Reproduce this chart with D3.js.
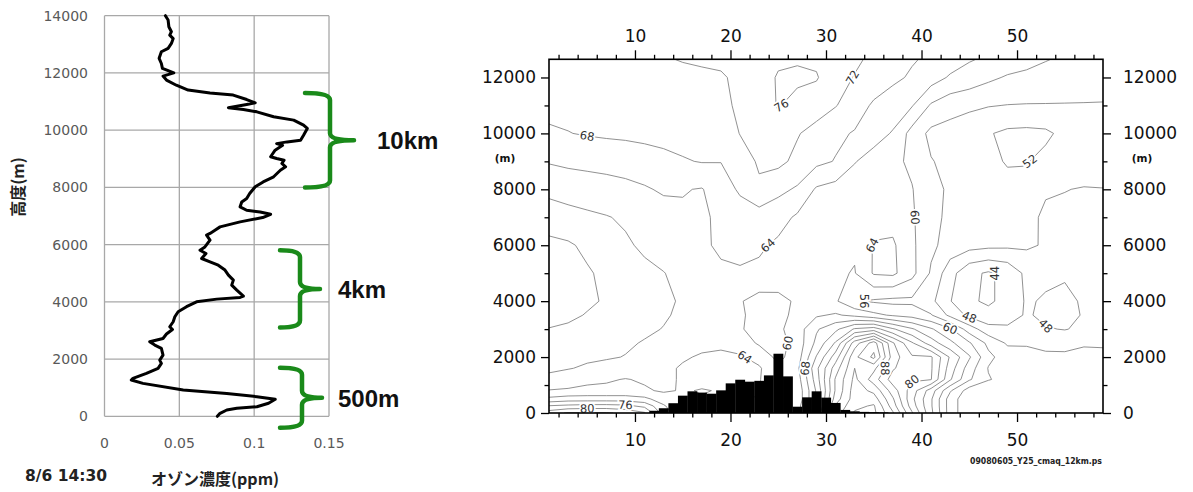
<!DOCTYPE html>
<html>
<head>
<meta charset="utf-8">
<script src="https://cdn.jsdelivr.net/npm/d3@7"></script>
<style>
  body { margin: 0; background: #fff; }
  svg { display: block; }
</style>
</head>
<body>
<svg id="chart"></svg>
<script>
// ---------- left panel: sonde profile 8/6 14:30 ----------
const profileAlt = [14000, 13850, 13615, 13440, 13320, 13200, 13030, 12860, 12740, 12510, 12330, 12160, 12000, 11890, 11750,
  11570, 11400, 11300, 11225, 11070, 10955, 10900, 10780, 10720, 10640, 10470, 10350, 10175, 10060, 9825, 9650, 9590, 9530,
  9470, 9300, 9070, 9010, 8950, 8835, 8720, 8600, 8370, 8190, 8020, 7785, 7610, 7490, 7320, 7200, 7140, 7060, 6945, 6795,
  6620, 6505, 6390, 6330, 6155, 5920, 5805, 5690, 5515, 5400, 5280, 5110, 4935, 4760, 4585, 4410, 4200, 4155, 4095, 4000,
  3830, 3655, 3480, 3305, 3130, 3035, 2875, 2720, 2605, 2490, 2375, 2140, 1965, 1850, 1675, 1500, 1325, 1270, 1150, 920,
  800, 685, 595, 455, 335, 280, 220, 105, 0];
const profilePpm = [0.0407, 0.0425, 0.043, 0.0447, 0.0436, 0.0459, 0.0447, 0.0425, 0.038, 0.0365, 0.038, 0.0387, 0.0463, 0.0391, 0.0414,
  0.048, 0.0559, 0.0705, 0.086, 0.095, 0.1007, 0.095, 0.0828, 0.0928, 0.1018, 0.113, 0.1264, 0.133, 0.1355, 0.133, 0.131, 0.122, 0.115,
  0.119, 0.114, 0.111, 0.115, 0.12, 0.1185, 0.121, 0.1175, 0.113, 0.106, 0.1007, 0.097, 0.095, 0.0917, 0.0906, 0.095, 0.104, 0.111, 0.1057, 0.0906,
  0.0772, 0.0738, 0.0705, 0.0682, 0.0705, 0.0671, 0.0638, 0.0678, 0.0649, 0.0705, 0.076, 0.0805, 0.0828, 0.0861, 0.085, 0.0884, 0.0928, 0.0906, 0.075, 0.0615,
  0.0548, 0.0492, 0.047, 0.0459, 0.0436, 0.0454, 0.0414, 0.0391, 0.0302, 0.0336, 0.038, 0.0391, 0.0369, 0.038, 0.0358, 0.028, 0.019, 0.0179, 0.0257, 0.0526,
  0.0817, 0.1018, 0.1141, 0.1096, 0.1018, 0.0884, 0.0817, 0.0772, 0.0754];
const profileXTicks = [0, 0.05, 0.1, 0.15];
const profileYTicks = [0, 2000, 4000, 6000, 8000, 10000, 12000, 14000];
const braceLabels = ["10km", "4km", "500m"];
const braceTop = [11300, 5800, 1700];
const braceBottom = [8000, 3100, -400];

// ---------- right panel: CMAQ cross section (ppb) ----------
const gridX = [1, 3, 5, 7, 9, 11, 13, 15, 17, 19, 21, 23, 25, 27, 29, 31, 33, 35, 37, 39, 41, 43, 45, 47, 49, 51, 53, 55, 57, 59];
const gridAlt = [0, 250, 500, 800, 1200, 1600, 2000, 2500, 3000, 3500, 4000, 5000, 6000, 7000, 8000, 9000, 10000, 11000, 12000, 12700];
const ozoneGrid = [
  [82, 84.5, 84.5, 84.5, 83, 80.5, 70, 65, 64.2, 64.2, 64.2, 63.8, 60.5, 62, 76.5, 94, 100.5, 101, 92.5, 80.5, 69, 58, 53, 52.3, 53, 53, 53, 53, 53, 53],
  [76.3, 77, 77.5, 77.5, 77, 75, 68.5, 64.2, 64.2, 64.2, 64.2, 63.8, 60.5, 62, 74, 92.5, 99, 100.5, 90, 78, 68.5, 58, 53, 52.2, 53, 53, 53, 53, 53, 53],
  [69, 70, 70, 70, 70, 69, 66, 64.2, 64.2, 64.2, 64.2, 63.8, 60.5, 61, 72.5, 90, 98, 98, 88.5, 77, 68.5, 58, 53, 52.2, 53, 53.5, 53.5, 53.5, 53.5, 53.5],
  [64.2, 64.5, 65, 65, 65, 64.5, 63.5, 64.3, 63.8, 64.2, 64.5, 64.2, 60.5, 61, 72.5, 88.5, 98, 95, 86, 78, 70, 60.5, 54, 52.5, 53, 53.5, 53.5, 53.5, 53.5, 53.5],
  [61, 62, 63, 63.5, 64.2, 63.5, 63, 64.5, 65, 65.5, 65, 64.3, 60.5, 62, 74, 88.5, 97, 90, 82, 80.5, 80.2, 68.5, 60.5, 56.3, 54.5, 54, 53.5, 53.5, 53.5, 53.5],
  [59.3, 59.8, 60.5, 61, 61.5, 62, 63, 64.5, 65, 65.5, 65.5, 64.5, 60.5, 63, 75, 86, 96, 93, 84.5, 81, 80.5, 70, 62, 55.8, 54, 53.5, 53, 53, 53.2, 53.5],
  [58.8, 59.1, 59.4, 59.7, 60.1, 61, 63, 63.5, 64.5, 65, 64.5, 62.5, 59, 62, 72.3, 82, 95, 101, 86, 80.5, 80.5, 71.5, 64.5, 57, 54, 53, 52.5, 52.5, 52.8, 53],
  [57.5, 58, 58.5, 59, 59.6, 60.2, 61, 62.5, 62.8, 63, 62, 59.5, 58.5, 61.5, 69, 76.5, 90, 98, 84.5, 76.5, 70, 65, 60.5, 55, 51.5, 51.7, 51.3, 51.2, 51.7, 51.5],
  [56.2, 56.8, 57.5, 58.2, 58.9, 59.5, 60.1, 61, 61.5, 61.5, 60.5, 58, 59.2, 62, 67.5, 71, 76.5, 78, 72.5, 68.5, 64.5, 60.5, 54, 49.5, 48.8, 49.2, 48.3, 47.8, 48.8, 50.5],
  [54, 55, 56.3, 57.3, 58.3, 59, 59.7, 60.5, 61, 61.2, 60.6, 58.5, 58.3, 61.5, 63.5, 64.5, 63, 61, 59.5, 58.5, 56.3, 51, 47, 45, 46, 48.5, 47, 46.8, 48.3, 50],
  [53.5, 54, 55.2, 56.5, 57.8, 58.8, 59.5, 60.3, 61, 61.5, 60.3, 58.5, 59, 60.5, 61, 60.5, 56.5, 55.5, 55, 55.2, 53, 48.2, 44.5, 43.5, 45, 48.5, 47.5, 47, 48.5, 50],
  [54, 54.5, 55.6, 56.8, 58, 59.2, 59.9, 61, 62, 63.2, 63.5, 63.2, 62.2, 61.5, 61, 60.5, 59.8, 64.4, 64.8, 61.2, 55.5, 49.5, 45, 43.5, 45, 49, 49, 48.5, 49.5, 50.5],
  [55, 55.5, 56.8, 58.2, 59.5, 60.6, 61.5, 62.3, 63.2, 64.8, 65.3, 64.6, 63.3, 62.5, 62, 61.3, 60.5, 64.3, 64.6, 60.8, 56.8, 54.5, 53.5, 53, 52.8, 52.6, 51.6, 51.4, 51.3, 51.5],
  [58, 58.7, 59.3, 59.8, 60.5, 61.2, 62.3, 63.5, 63.2, 65, 66, 66, 65.5, 63.4, 63, 62.3, 61.8, 62.5, 62.5, 60.5, 57.3, 55, 54, 53.5, 53.2, 52.8, 51.5, 51.2, 51.2, 51.3],
  [61, 61.6, 62, 62.5, 63, 63.6, 64.5, 64.2, 63.8, 66, 68.6, 71.5, 69, 67.5, 63.5, 62.5, 62, 61.5, 61, 60.2, 57, 55.5, 54.5, 54, 53.5, 53, 52.3, 52.1, 51.8, 51.9],
  [64.3, 64.8, 65.1, 65.3, 65.6, 66.3, 67, 67.7, 68.2, 68.1, 70.5, 72.4, 73, 71, 69, 67.8, 64.2, 62.5, 61, 59.2, 56.2, 55, 54, 53.2, 51.6, 51.8, 53, 53.8, 54, 54],
  [67.5, 67.9, 68.3, 68.6, 68.8, 69, 69.2, 69.4, 69.6, 70, 72.1, 73.5, 75.1, 72.3, 70.5, 68.8, 67.7, 65.5, 63.7, 58.5, 55, 54.5, 53.5, 52.3, 51.2, 51, 51.3, 53, 54, 54.5],
  [69, 69, 69.1, 69.2, 69.3, 69.5, 69.8, 70.3, 70.8, 71.3, 72.5, 74.5, 76.2, 75, 74, 72.2, 70, 67.4, 66, 64.3, 59.5, 57.5, 56.8, 56.2, 55.9, 55.8, 55.8, 55.8, 55.8, 55.8],
  [69.6, 69.6, 69.7, 69.8, 70, 70.3, 70.6, 71, 71.3, 71.6, 72.8, 74, 76.4, 76.6, 76.3, 73.6, 71.8, 70.4, 68.8, 67.5, 65.9, 63.5, 62.3, 60.8, 59.6, 59.1, 58.7, 58.2, 57.8, 57.4],
  [70, 70, 70.1, 70.3, 70.6, 71, 71.8, 72.3, 72.6, 72.8, 73.5, 74.5, 75.2, 75.6, 75.3, 74, 72.8, 71.2, 69.7, 68.4, 67.4, 66.2, 64.5, 63.5, 62.4, 61.4, 60.3, 59.6, 59, 58.6]
];
const terrainX = [12, 13, 14, 15, 16, 17, 18, 19, 20, 21, 22, 23, 24, 25, 26, 27, 28, 29, 30, 31, 32, 33, 34, 35, 36];
const terrainH = [80, 170, 350, 620, 775, 730, 690, 810, 1060, 1190, 1120, 1150, 1345, 2120, 1310, 225, 560, 775, 550, 360, 110, 60, 40, 30, 20];
const contourLevels = [44, 48, 52, 56, 60, 64, 68, 72, 76, 80, 84, 88, 92, 96, 100];
const labelValue = [68, 76, 72, 52, 60, 64, 60, 64, 68, 56, 64, 88, 80, 60, 48, 44, 52, 48, 80, 76];
const labelX = [5.9, 25.4, 31.9, 51.4, 39.1, 23.9, 26.5, 20.9, 27.9, 32.7, 34.9, 35.8, 39.5, 43, 46.1, 47.9, 56.3, 52.4, 5.8, 8.4];
const labelAlt = [9680, 11000, 11700, 9500, 6800, 5800, 2710, 1710, 1540, 4100, 5700, 1430, 1540, 3040, 3430, 4750, 5640, 3200, 180, 100];
const sectionXMajor = [10, 20, 30, 40, 50];
const sectionXMinor = [2, 4, 6, 8, 12, 14, 16, 18, 22, 24, 26, 28, 32, 34, 36, 38, 42, 44, 46, 48, 52, 54, 56, 58];
const sectionYMajor = [0, 2000, 4000, 6000, 8000, 10000, 12000];
const sectionYMinor = [1000, 3000, 5000, 7000, 9000, 11000];

const svg = d3.select("#chart").attr("width", 1193).attr("height", 492);
const jpFont = "'Noto Sans CJK JP', 'DejaVu Sans', sans-serif";

// ================= left panel =================
const xL = d3.scaleLinear().domain([0, 0.15]).range([104.5, 329]);
const yL = d3.scaleLinear().domain([0, 14000]).range([416.3, 15.7]);

const left = svg.append("g");
left.selectAll("line.h").data(profileYTicks).join("line")
    .attr("x1", xL(0)).attr("x2", xL(0.15))
    .attr("y1", d => yL(d)).attr("y2", d => yL(d))
    .style("stroke", "#a8a8a8").style("stroke-width", 1.3);
left.selectAll("line.v").data(profileXTicks).join("line")
    .attr("x1", d => xL(d)).attr("x2", d => xL(d))
    .attr("y1", yL(0)).attr("y2", yL(14000))
    .style("stroke", "#a8a8a8").style("stroke-width", 1.3);

left.selectAll("text.yt").data(profileYTicks).join("text")
    .attr("x", 88).attr("y", d => yL(d) + 5)
    .attr("text-anchor", "end")
    .style("font-family", "'DejaVu Sans', sans-serif").style("font-size", "14px").style("fill", "#595959")
    .text(d => d);
left.selectAll("text.xt").data(profileXTicks).join("text")
    .attr("x", d => xL(d)).attr("y", 448)
    .attr("text-anchor", "middle")
    .style("font-family", "'DejaVu Sans', sans-serif").style("font-size", "14px").style("fill", "#595959")
    .text(d => d);

const profileLine = d3.line().x(i => xL(profilePpm[i])).y(i => yL(profileAlt[i]));
left.append("path").attr("d", profileLine(d3.range(profileAlt.length)))
    .style("fill", "none").style("stroke", "#000").style("stroke-width", 3)
    .style("stroke-linejoin", "round").style("stroke-linecap", "round");

left.append("text").attr("transform", "translate(24,187) rotate(-90)")
    .attr("text-anchor", "middle")
    .style("font-family", jpFont).style("font-weight", "bold").style("font-size", "16px").style("fill", "#222")
    .text("高度(m)");
left.append("text").attr("x", 25).attr("y", 481)
    .style("font-family", "'DejaVu Sans', sans-serif").style("font-weight", "bold").style("font-size", "15.5px").style("fill", "#222")
    .text("8/6 14:30");
left.append("text").attr("x", 151).attr("y", 485)
    .style("font-family", jpFont).style("font-weight", "bold").style("font-size", "16px").style("fill", "#222")
    .text("オゾン濃度(ppm)");

// curly braces
function bracePath(x0, xm, xt, y0, y1) {
    const ym = (y0 + y1) / 2, r = 7;
    return `M${x0},${y0} Q${xm},${y0} ${xm},${y0 + r} L${xm},${ym - r} Q${xm},${ym} ${xt},${ym}` +
           ` Q${xm},${ym} ${xm},${ym + r} L${xm},${y1 - r} Q${xm},${y1} ${x0},${y1}`;
}
const braceX = [[305, 330, 354, 377], [280, 300, 320, 338], [280, 302, 322, 338]];
braceLabels.forEach((lab, i) => {
    const [x0, xm, xt, tx] = braceX[i];
    const y0 = yL(braceTop[i]), y1 = yL(braceBottom[i]);
    left.append("path").attr("d", bracePath(x0, xm, xt, y0, y1))
        .style("fill", "none").style("stroke", "#1a8a1a").style("stroke-width", 4.5)
        .style("stroke-linecap", "round").style("stroke-linejoin", "round");
    left.append("text").attr("x", tx).attr("y", (y0 + y1) / 2 + 9)
        .style("font-family", "'Liberation Sans', Arial, sans-serif").style("font-weight", "bold")
        .style("font-size", "24px").style("fill", "#111")
        .text(lab);
});

// ================= right panel =================
const xR = d3.scaleLinear().domain([1, 59]).range([549, 1103]);
const yR = d3.scaleLinear().domain([0, 12650]).range([413, 59.3]);

const right = svg.append("g");
right.append("clipPath").attr("id", "frameClip")
    .append("rect").attr("x", 549).attr("y", 59.3).attr("width", 1103 - 549).attr("height", 413 - 59.3);

const contours = d3.contours().size([gridX.length, gridAlt.length]).thresholds(contourLevels)(ozoneGrid.flat());
const cx = d3.scaleLinear().domain(gridX.map((d, i) => i + 0.5)).range(gridX);
const cy = d3.scaleLinear().domain(gridAlt.map((d, i) => i + 0.5)).range(gridAlt);
const toPx = (p) => [xR(cx(p[0])), yR(cy(p[1]))];
const project = d3.geoTransform({ point(x, y) { const q = toPx([x, y]); this.stream.point(q[0], q[1]); } });
const geoPath = d3.geoPath(project);

const field = right.append("g").attr("clip-path", "url(#frameClip)");
field.selectAll("path").data(contours).join("path")
    .attr("d", geoPath)
    .style("fill", "none").style("stroke", "#858585").style("stroke-width", 0.9);

// terrain
field.selectAll("rect").data(terrainX).join("rect")
    .attr("x", d => xR(d - 0.5)).attr("width", d => xR(d + 0.5) - xR(d - 0.5) + 0.3)
    .attr("y", (d, i) => yR(terrainH[i])).attr("height", (d, i) => yR(0) - yR(terrainH[i]))
    .style("fill", "#000");

// contour labels snapped onto the generated lines
const labelGroup = right.append("g");
labelValue.forEach((v, i) => {
    const c = contours.find(k => k.value === v);
    if (!c) return;
    const tx = xR(labelX[i]), ty = yR(labelAlt[i]);
    let best = null;
    c.coordinates.forEach(poly => poly.forEach(ring => {
        const pts = ring.map(toPx);
        pts.forEach((p, j) => {
            const d = (p[0] - tx) ** 2 + (p[1] - ty) ** 2;
            if (p[0] > 552 && p[0] < 1100 && p[1] > 62 && p[1] < 411 && (!best || d < best.d)) best = { d, pts, j };
        });
    }));
    if (!best || best.d > 35 * 35) return;
    const n = best.pts.length, p = best.pts[best.j];
    const a = best.pts[(best.j - 2 + n) % n], b = best.pts[(best.j + 2) % n];
    let ang = Math.atan2(b[1] - a[1], b[0] - a[0]) * 180 / Math.PI;
    if (ang > 90) ang -= 180;
    if (ang < -90) ang += 180;
    labelGroup.append("text")
        .attr("transform", `translate(${p[0]},${p[1]}) rotate(${ang})`)
        .attr("text-anchor", "middle").attr("dy", "0.35em")
        .style("font-family", "'DejaVu Sans', sans-serif").style("font-size", "11.5px").style("fill", "#333")
        .style("stroke", "#fff").style("stroke-width", 3.5).style("paint-order", "stroke")
        .text(v);
});

// frame + axes
right.append("rect").attr("x", 549).attr("y", 59.3).attr("width", 1103 - 549).attr("height", 413 - 59.3)
    .style("fill", "none").style("stroke", "#000").style("stroke-width", 1.6);

function styleAxis(g) {
    g.select(".domain").remove();
    g.selectAll("line").style("stroke", "#000").style("stroke-width", 1.3);
    g.selectAll("text").style("font-family", "'DejaVu Sans', sans-serif").style("font-size", "17px").style("fill", "#111");
}
right.append("g").attr("transform", "translate(0,59.3)")
    .call(d3.axisTop(xR).tickValues(sectionXMinor).tickSize(4.5).tickFormat("")).call(styleAxis);
right.append("g").attr("transform", "translate(0,59.3)")
    .call(d3.axisTop(xR).tickValues(sectionXMajor).tickSize(9).tickPadding(8)).call(styleAxis);
right.append("g").attr("transform", "translate(0,413)")
    .call(d3.axisBottom(xR).tickValues(sectionXMinor).tickSize(4.5).tickFormat("")).call(styleAxis);
right.append("g").attr("transform", "translate(0,413)")
    .call(d3.axisBottom(xR).tickValues(sectionXMajor).tickSize(9).tickPadding(12)).call(styleAxis);
right.append("g").attr("transform", "translate(549,0)")
    .call(d3.axisLeft(yR).tickValues(sectionYMinor).tickSize(4.5).tickFormat("")).call(styleAxis);
right.append("g").attr("transform", "translate(549,0)")
    .call(d3.axisLeft(yR).tickValues(sectionYMajor).tickSize(8).tickPadding(5).tickFormat(d3.format("d"))).call(styleAxis);
right.append("g").attr("transform", "translate(1103,0)")
    .call(d3.axisRight(yR).tickValues(sectionYMinor).tickSize(4.5).tickFormat("")).call(styleAxis);
right.append("g").attr("transform", "translate(1103,0)")
    .call(d3.axisRight(yR).tickValues(sectionYMajor).tickSize(8).tickPadding(12).tickFormat(d3.format("d"))).call(styleAxis);

[505, 1142].forEach(x => {
    right.append("text").attr("x", x).attr("y", 162).attr("text-anchor", "middle")
        .style("font-family", "'DejaVu Sans', sans-serif").style("font-weight", "bold").style("font-size", "10.5px").style("fill", "#111")
        .text("(m)");
});
right.append("text").attr("x", 970).attr("y", 464).attr("textLength", 132).attr("lengthAdjust", "spacingAndGlyphs")
    .style("font-family", "'DejaVu Sans', sans-serif").style("font-weight", "bold").style("font-size", "8px").style("fill", "#222")
    .text("09080605_Y25_cmaq_12km.ps");
</script>
</body>
</html>
